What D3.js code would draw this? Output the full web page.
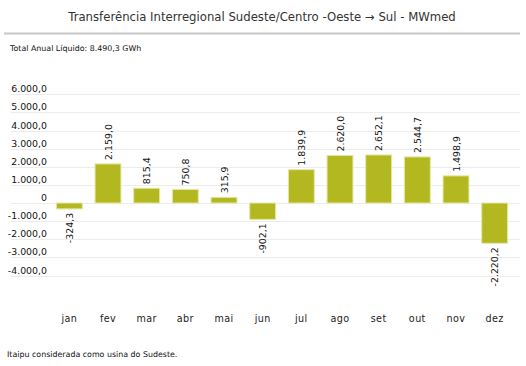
<!DOCTYPE html>
<html>
<head>
<meta charset="utf-8">
<script src="https://cdn.jsdelivr.net/npm/d3@7"></script>
<style>
  body { margin: 0; background: #fff; }
  text { font-family: "DejaVu Sans", Verdana, sans-serif; }
</style>
</head>
<body>
<svg id="chart" width="526" height="366"></svg>
<script>
// Données
const meses = ["jan", "fev", "mar", "abr", "mai", "jun", "jul", "ago", "set", "out", "nov", "dez"];
const valores = [-324.3, 2159.0, 815.4, 750.8, 315.9, -902.1, 1839.9, 2620.0, 2652.1, 2544.7, 1498.9, -2220.2];
const ticksY = [6000, 5000, 4000, 3000, 2000, 1000, 0, -1000, -2000, -3000, -4000];

const titulo = "Transferência Interregional Sudeste/Centro -Oeste \u2192 Sul - MWmed";
const subtitulo = "Total Anual Líquido: 8.490,3 GWh";
const rodape = "Itaipu considerada como usina do Sudeste.";

const svg = d3.select("#chart");

// formato pt-BR
const fmt = d => {
  if (d === 0) return "0";
  const s = Math.abs(d).toFixed(1).split(".");
  const inteiro = s[0].replace(/\B(?=(\d{3})+(?!\d))/g, ".");
  return (d < 0 ? "-" : "") + inteiro + "," + s[1];
};

// Échelles
const x = d3.scaleBand()
  .domain(meses)
  .range([50, 514])
  .paddingInner(0.33)
  .paddingOuter(0.165);

const y = d3.scaleLinear()
  .domain([-4000, 6000])
  .range([275.5, 94.3]);

// titre
svg.append("text")
  .attr("x", 262).attr("y", 21)
  .attr("text-anchor", "middle")
  .attr("font-size", 11.7)
  .attr("fill", "#333")
  .text(titulo);

svg.append("line")
  .attr("x1", 4).attr("x2", 520)
  .attr("y1", 33.5).attr("y2", 33.5)
  .attr("stroke", "#c8c8c8").attr("stroke-width", 2);

svg.append("text")
  .attr("x", 10).attr("y", 51)
  .attr("font-size", 7.9)
  .attr("fill", "#111")
  .text(subtitulo);

// grille
svg.append("g")
  .selectAll("line")
  .data(ticksY)
  .join("line")
  .attr("x1", 11).attr("x2", 520)
  .attr("y1", d => Math.round(y(d)) + 0.5)
  .attr("y2", d => Math.round(y(d)) + 0.5)
  .attr("stroke", "#ececec");

// axe Y
svg.append("g")
  .selectAll("text")
  .data(ticksY)
  .join("text")
  .attr("x", 47)
  .attr("y", d => y(d) - 2)
  .attr("text-anchor", "end")
  .attr("font-size", 9.4)
  .attr("fill", "#111")
  .text(fmt);

// barres
svg.append("g")
  .selectAll("rect")
  .data(valores)
  .join("rect")
  .attr("x", (d, i) => x(meses[i]))
  .attr("width", x.bandwidth())
  .attr("y", d => y(Math.max(0, d)))
  .attr("height", d => Math.abs(y(d) - y(0)))
  .attr("fill", "#b3b820")
  .attr("stroke", "#e3e8a6")
  .attr("stroke-width", 1);

// étiquettes de valeur
svg.append("g")
  .selectAll("text")
  .data(valores)
  .join("text")
  .attr("transform", (d, i) => {
    const cx = x(meses[i]) + x.bandwidth() / 2 + 3.5;
    const cy = d >= 0 ? y(d) - 4 : y(d) + 4;
    return `translate(${cx},${cy}) rotate(-90)`;
  })
  .attr("text-anchor", d => d >= 0 ? "start" : "end")
  .attr("font-size", 9.4)
  .attr("fill", "#111")
  .text(fmt);

// axe X
svg.append("g")
  .selectAll("text")
  .data(meses)
  .join("text")
  .attr("x", d => x(d) + x.bandwidth() / 2)
  .attr("y", 322)
  .attr("text-anchor", "middle")
  .attr("font-size", 9.6)
  .attr("fill", "#222")
  .attr("letter-spacing", 0.4)
  .text(d => d);

svg.append("text")
  .attr("x", 7).attr("y", 357)
  .attr("font-size", 7.9)
  .attr("fill", "#111")
  .text(rodape);
</script>
</body>
</html>
